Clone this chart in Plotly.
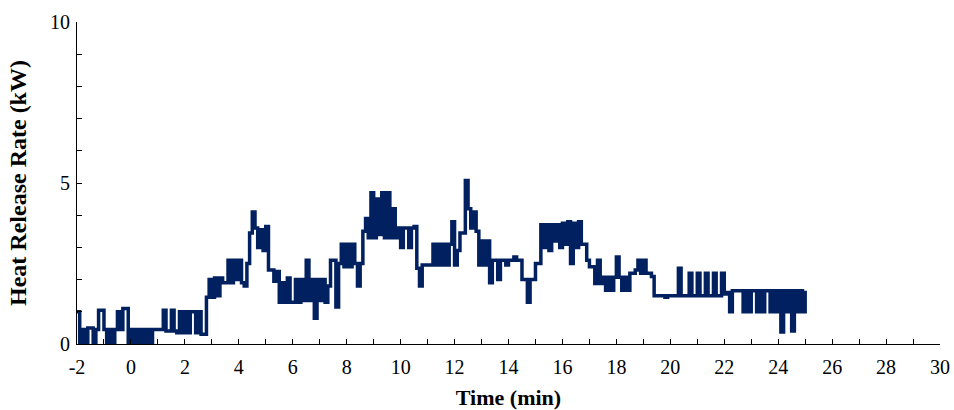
import plotly.graph_objects as go

# time (min), from -2.0 to 25.0 in 0.1 steps
t_start = -2.0
t_step = 0.1

hrr_kw = [
    # -2.0 .. -1.1
    1.0, 0.0, 0.45, 0.0, 0.5, 0.5, 0.0, 0.45, 1.05, 1.05,
    # -1.0 .. -0.1
    0.45, 0.0, 0.45, 0.0, 0.45, 1.0, 0.45, 1.1, 1.1, 0.0,
    # 0.0 .. 0.9
    0.45, 0.0, 0.45, 0.0, 0.45, 0.0, 0.45, 0.0, 0.45, 0.45,
    # 1.0 .. 1.9
    0.45, 0.45, 1.05, 0.4, 0.4, 1.05, 0.4, 0.35, 1.0, 0.35,
    # 2.0 .. 2.9
    1.0, 0.35, 1.0, 1.0, 0.35, 1.0, 0.3, 0.3, 1.45, 2.0,
    # 3.0 .. 3.9
    1.45, 2.05, 1.5, 2.05, 1.9, 1.9, 2.6, 1.9, 2.6, 2.0,
    # 4.0 .. 4.9
    2.6, 1.9, 1.8, 2.5, 3.45, 4.1, 3.6, 3.0, 3.55, 2.9,
    # 5.0 .. 5.9
    3.65, 2.3, 2.3, 1.95, 2.25, 1.3, 1.9, 1.3, 2.05, 1.3,
    # 6.0 .. 6.9
    1.3, 2.0, 1.3, 2.0, 1.35, 2.6, 1.35, 2.0, 0.8, 2.0,
    # 7.0 .. 7.9
    1.35, 2.0, 1.3, 1.8, 2.6, 2.6, 1.15, 2.5, 3.1, 2.4,
    # 8.0 .. 8.9
    3.1, 2.4, 3.1, 2.5, 1.8, 2.5, 3.5, 3.9, 3.3, 4.7,
    # 9.0 .. 9.9
    3.3, 4.5, 3.4, 4.7, 3.3, 4.7, 3.3, 4.2, 3.3, 3.6,
    # 10.0 .. 10.9
    3.0, 3.6, 3.6, 3.0, 3.6, 3.65, 2.35, 1.8, 2.45, 2.45,
    # 11.0 .. 11.9
    2.45, 2.45, 3.1, 2.45, 3.1, 2.45, 3.1, 2.45, 3.1, 3.8,
    # 12.0 .. 12.9
    2.45, 2.9, 3.45, 3.45, 5.08, 4.2, 3.6, 4.1, 3.5, 2.45,
    # 13.0 .. 13.9
    3.2, 2.45, 3.2, 1.9, 2.6, 2.6, 2.0, 2.6, 2.6, 2.45,
    # 14.0 .. 14.9
    2.6, 2.6, 2.7, 2.6, 2.6, 2.0, 2.0, 1.3, 2.0, 2.0,
    # 15.0 .. 15.9
    2.5, 2.5, 3.7, 3.0, 3.7, 2.9, 3.7, 3.2, 3.7, 3.0,
    # 16.0 .. 16.9
    3.75, 3.1, 3.8, 2.5, 3.75, 3.0, 3.8, 3.1, 3.1, 2.6,
    # 17.0 .. 17.9
    2.4, 2.4, 1.88, 2.6, 1.88, 2.07, 1.67, 2.07, 1.67, 2.07,
    # 18.0 .. 18.9
    2.7, 2.07, 1.67, 2.07, 1.67, 2.2, 2.2, 2.3, 2.6, 2.2,
    # 19.0 .. 19.9
    2.6, 2.2, 2.2, 2.1, 1.5, 1.5, 1.5, 1.5, 1.45, 1.5,
    # 20.0 .. 20.9
    1.5, 1.5, 1.5, 2.35, 1.5, 1.5, 1.5, 2.2, 1.5, 1.5,
    # 21.0 .. 21.9
    2.2, 1.5, 1.5, 2.2, 1.5, 1.5, 2.2, 1.5, 1.5, 2.2,
    # 22.0 .. 22.9
    1.55, 1.6, 1.0, 1.65, 1.65, 1.65, 1.65, 1.0, 1.65, 1.0,
    # 23.0 .. 23.9
    1.65, 1.65, 1.0, 1.65, 1.0, 1.65, 1.65, 1.0, 1.65, 1.0,
    # 24.0 .. 24.9
    1.65, 0.37, 1.65, 1.0, 1.65, 0.4, 1.65, 1.0, 1.65, 1.0,
    # 25.0
    1.65,
]

time_min = [round(t_start + i * t_step, 2) for i in range(len(hrr_kw))]

x_tick_vals = list(range(-2, 31, 2))
x_tick_text = [str(v) for v in x_tick_vals]   # plain hyphen for "-2"
y_tick_vals = [0, 5, 10]
y_tick_text = [str(v) for v in y_tick_vals]

fig = go.Figure()
fig.add_trace(go.Scatter(
    x=time_min, y=hrr_kw, mode="lines",
    line=dict(color="#00205F", width=3.5, shape="hv"),
    cliponaxis=False, showlegend=False,
))

font_family = "Liberation Serif, Times New Roman, serif"

fig.update_layout(
    width=954, height=410,
    margin=dict(l=77, r=14, t=22, b=66),
    paper_bgcolor="white", plot_bgcolor="white",
    font=dict(family=font_family, color="black", size=20),
    xaxis=dict(
        range=[-2, 30], tickvals=x_tick_vals, ticktext=x_tick_text,
        ticks="inside", ticklen=5, tickwidth=1, tickcolor="black",
        minor=dict(dtick=1, tick0=-2, ticks="inside", ticklen=5, tickcolor="black", tickwidth=1),
        showline=True, linecolor="black", linewidth=1,
        showgrid=False, zeroline=False, automargin=False,
        ticklabelstandoff=5,
        tickfont=dict(size=20, family=font_family),
        title=dict(text="<b>Time (min)</b>", font=dict(size=22, family=font_family), standoff=20),
    ),
    yaxis=dict(
        range=[0, 10], tickvals=y_tick_vals, ticktext=y_tick_text,
        ticks="inside", ticklen=5, tickwidth=1, tickcolor="black",
        minor=dict(dtick=1, tick0=0, ticks="inside", ticklen=5, tickcolor="black", tickwidth=1),
        showline=True, linecolor="black", linewidth=1,
        showgrid=False, zeroline=False, automargin=False,
        ticklabelstandoff=2,
        tickfont=dict(size=20, family=font_family),
        title=dict(text="<b>Heat Release Rate (kW)</b>", font=dict(size=24, family=font_family), standoff=16),
    ),
)

fig.write_html("out.html")
